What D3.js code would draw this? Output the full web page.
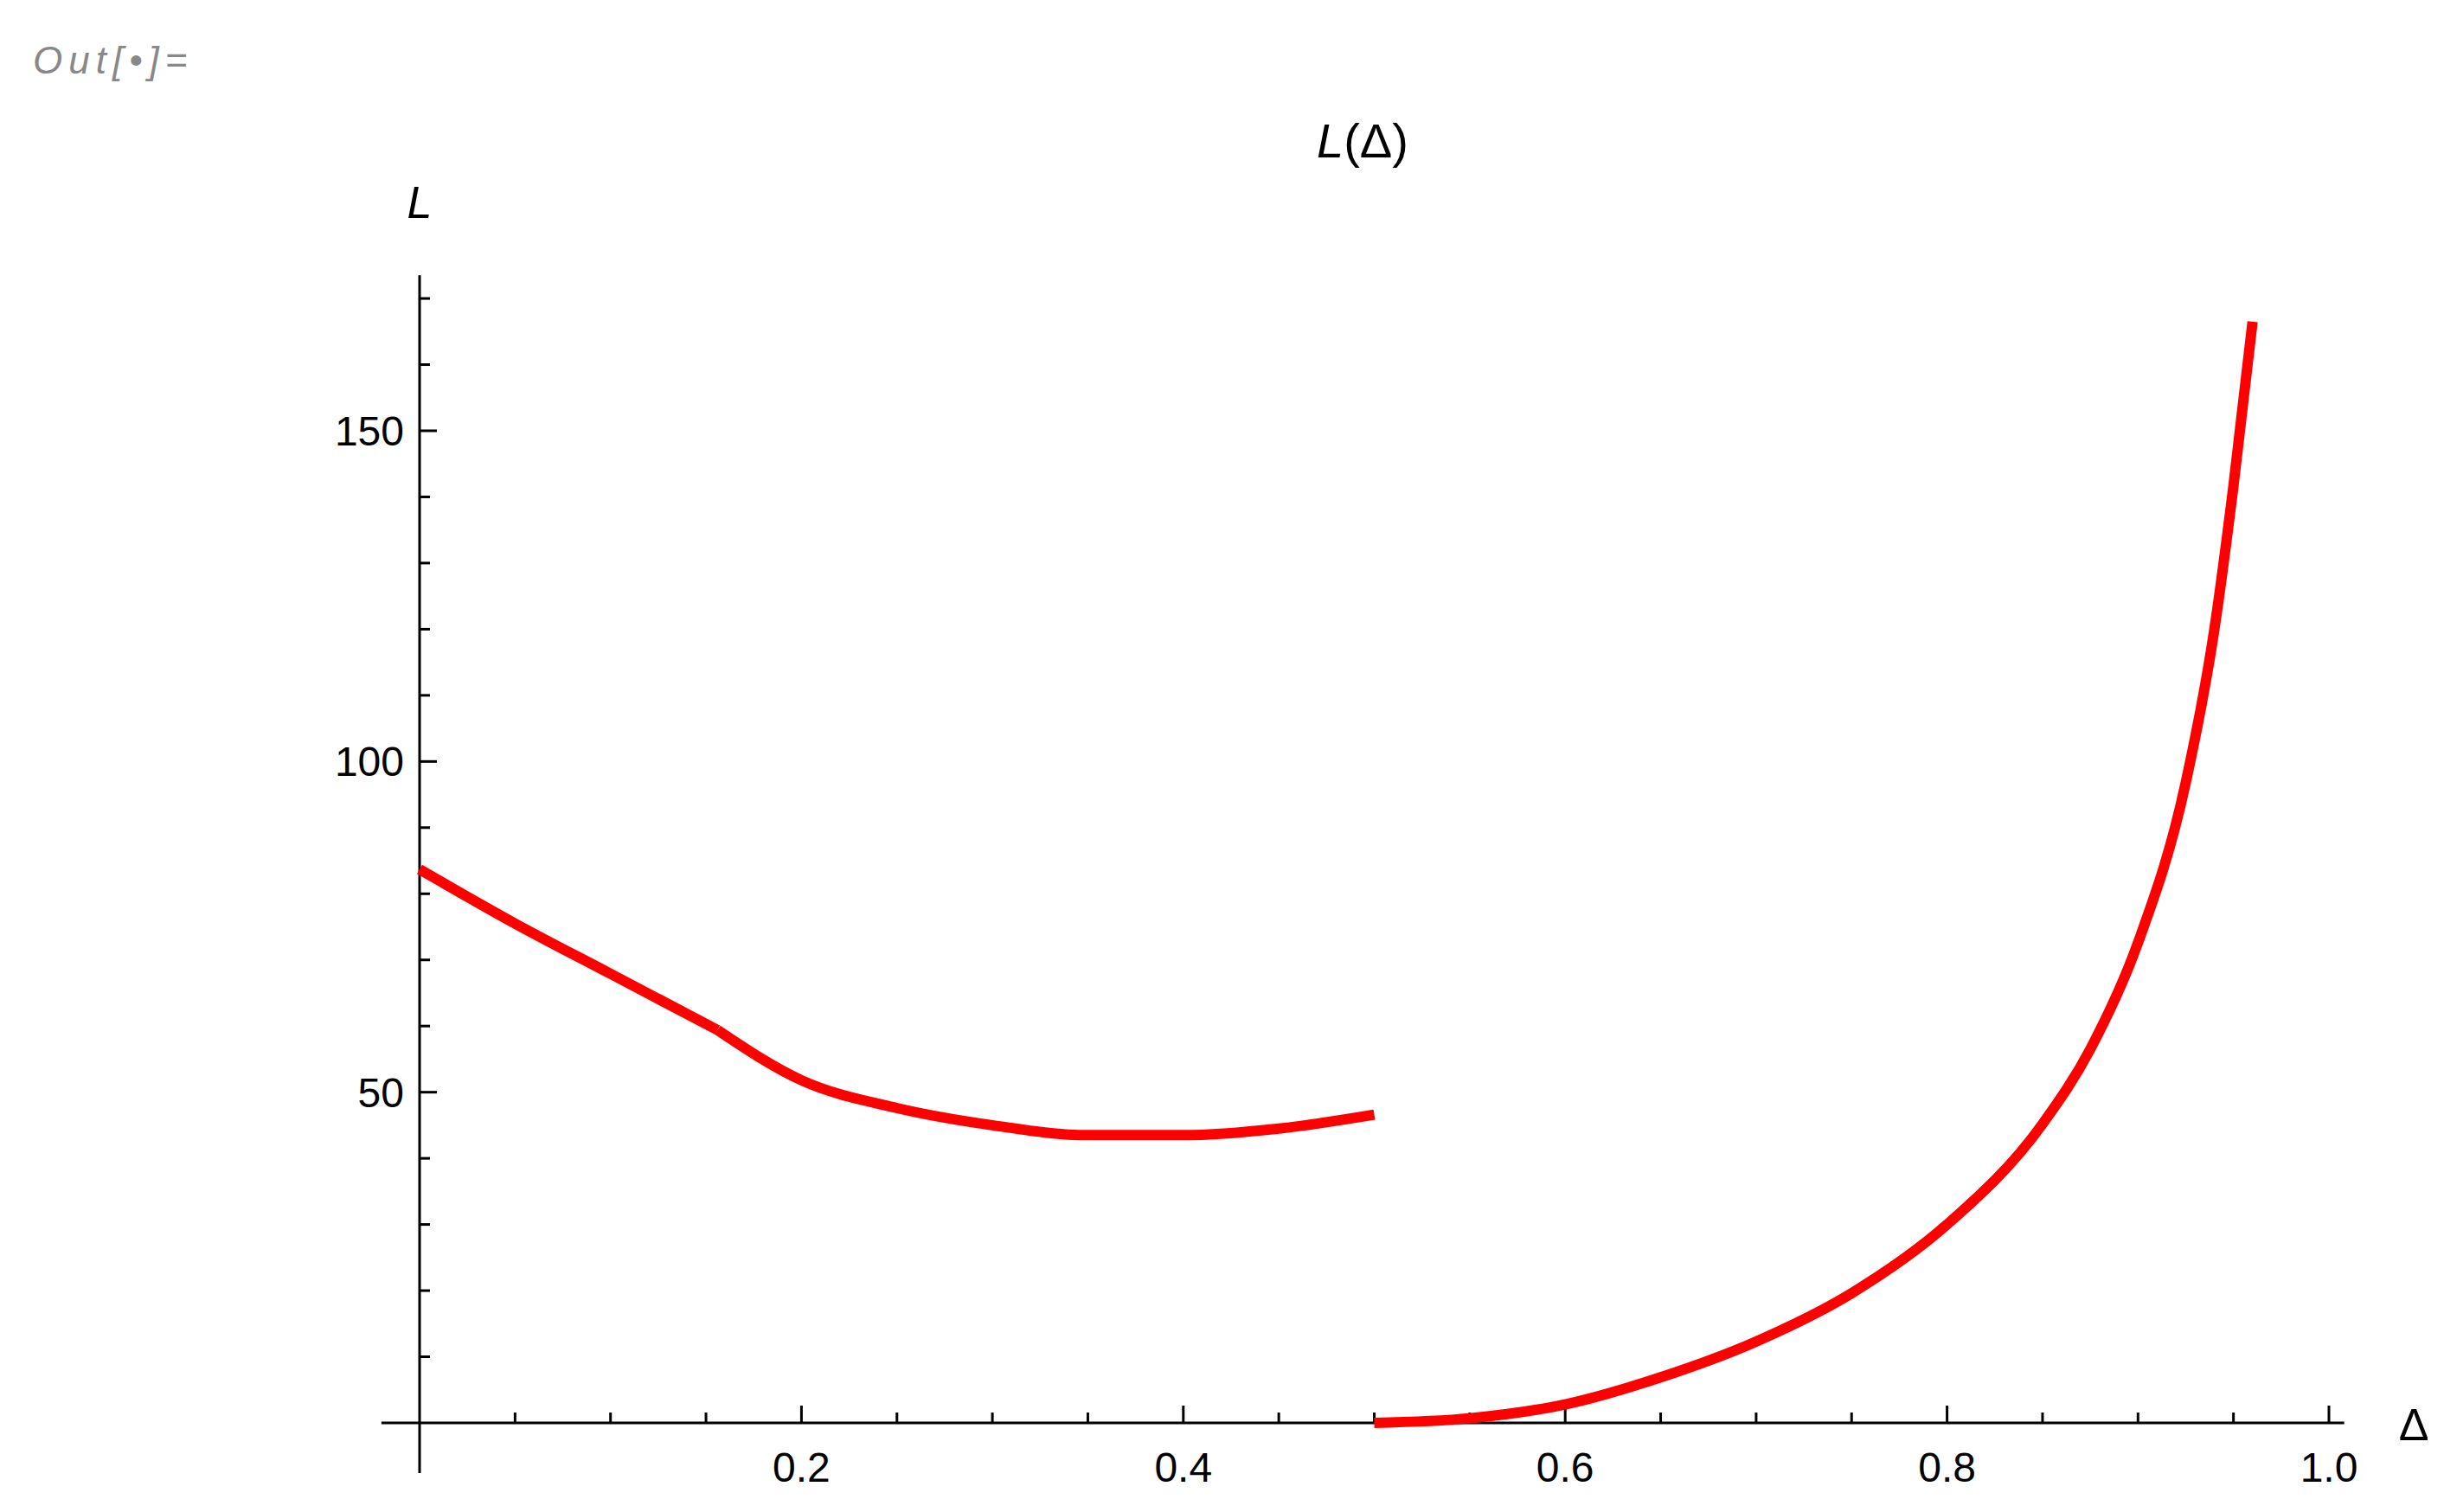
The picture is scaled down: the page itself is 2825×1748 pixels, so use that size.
<!DOCTYPE html>
<html>
<head>
<meta charset="utf-8">
<script src="https://cdn.jsdelivr.net/npm/d3@7"></script>
<style>
  body { margin: 0; background: #fff; }
  text { font-family: "Liberation Sans", Arial, sans-serif; }
</style>
</head>
<body>
<div id="chart"></div>
<script>
// data
const branchLowDelta = [0, 0.05, 0.1, 0.156, 0.2, 0.25, 0.3, 0.35, 0.4, 0.45, 0.5];
const branchLowL = [83.7, 75.5, 67.9, 59.4, 51.8, 47.6, 45.0, 43.5, 43.5, 44.5, 46.6];
const branchHighDelta = [0.5, 0.55, 0.6, 0.65, 0.7, 0.75, 0.8, 0.85, 0.875, 0.9, 0.925, 0.94, 0.95, 0.96];
const branchHighL = [0, 0.7, 2.8, 6.9, 12.3, 19.6, 30, 45.2, 56.5, 72.6, 96.8, 120, 141.7, 166.5];
const xTickLabels = [0.2, 0.4, 0.6, 0.8, 1.0];
const yTickLabels = [50, 100, 150];

const W = 2825, H = 1748;
const svg = d3.select("#chart").append("svg").attr("width", W).attr("height", H);

// Δ=0 at 485, Δ=1 at 2692 ; L=0 at 1645, L=150 at 498
const x = d3.scaleLinear().domain([0, 1]).range([485, 2692]);
const y = d3.scaleLinear().domain([0, 150]).range([1645, 498]);

// axes
const axisStyle = g => g.attr("stroke", "#000").attr("stroke-width", 3);
svg.append("line").call(axisStyle)
  .attr("x1", x(-0.02)).attr("x2", x(1.008)).attr("y1", y(0)).attr("y2", y(0));
svg.append("line").call(axisStyle)
  .attr("x1", x(0)).attr("x2", x(0)).attr("y1", y(173.5)).attr("y2", H - 45);

const xMinor = d3.range(1, 21).map(i => i * 0.05);
svg.selectAll(".xt").data(xMinor).join("line").call(axisStyle)
  .attr("x1", d => x(d)).attr("x2", d => x(d))
  .attr("y1", y(0)).attr("y2", (d, i) => y(0) - ((i + 1) % 4 === 0 ? 20 : 12));
svg.selectAll(".xl").data(xTickLabels).join("text")
  .attr("x", d => x(d)).attr("y", y(0) + 68)
  .attr("text-anchor", "middle").attr("font-size", 48)
  .text(d => d.toFixed(1));

const yMinor = d3.range(1, 18).map(i => i * 10);
svg.selectAll(".yt").data(yMinor).join("line").call(axisStyle)
  .attr("x1", x(0)).attr("x2", (d) => x(0) + (d % 50 === 0 ? 20 : 12))
  .attr("y1", d => y(d)).attr("y2", d => y(d));
svg.selectAll(".yl").data(yTickLabels).join("text")
  .attr("x", x(0) - 18).attr("y", d => y(d) + 17)
  .attr("text-anchor", "end").attr("font-size", 48)
  .text(d => d);

// curves
const line = d3.line().curve(d3.curveMonotoneX);
const drawBranch = (xs, ls) => svg.append("path")
  .attr("d", line(xs.map((d, i) => [x(d), y(ls[i])])))
  .attr("fill", "none").attr("stroke", "#ff0000").attr("stroke-width", 12);
drawBranch(branchLowDelta.slice(0, 4), branchLowL.slice(0, 4));
drawBranch(branchLowDelta.slice(3), branchLowL.slice(3));
drawBranch(branchHighDelta, branchHighL);

// labels
const title = svg.append("text").attr("x", 1575).attr("y", 182)
  .attr("text-anchor", "middle").attr("font-size", 56);
title.append("tspan").attr("font-style", "italic").text("L");
title.append("tspan").text("(Δ)");
svg.append("text").attr("x", x(0)).attr("y", 252).attr("text-anchor", "middle")
  .attr("font-size", 52).attr("font-style", "italic").text("L");
svg.append("text").attr("x", 2790).attr("y", 1665).attr("text-anchor", "middle")
  .attr("font-size", 52).text("Δ");
svg.append("text").attr("x", 38).attr("y", 85).attr("font-size", 44)
  .attr("font-style", "italic").attr("fill", "#888").attr("letter-spacing", 7)
  .text("Out[•]=");
</script>
</body>
</html>
